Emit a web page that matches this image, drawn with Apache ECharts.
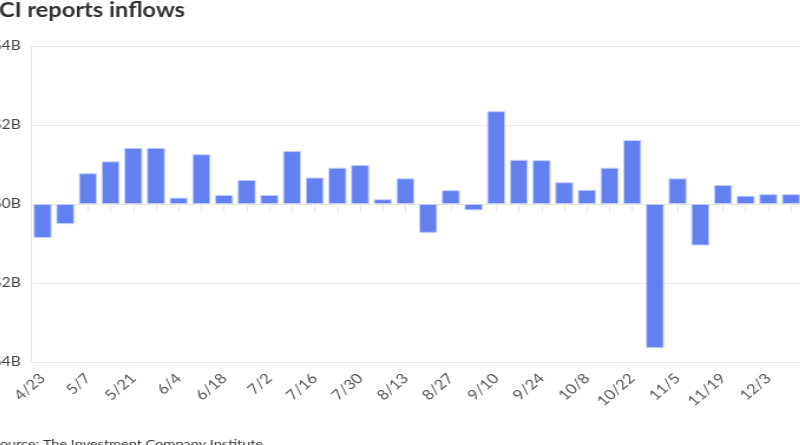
<!DOCTYPE html>
<html>
<head>
<meta charset="utf-8">
<script src="https://cdn.jsdelivr.net/npm/echarts@6/dist/echarts.min.js"></script>
<style>
  html, body { margin: 0; padding: 0; overflow: hidden; background: #fff; width: 800px; height: 445px; }
  /* the reference is a cropped, slightly widened capture of the chart */
  #container1 { position: absolute; left: -60px; top: 0; width: 735px; height: 445px;
                transform: scaleX(1.18); transform-origin: 0 0; }
</style>
</head>
<body>
<div id="container1"></div>
<script>
// weekly ICI flows, $B
var weeks = ["4/23","4/30","5/7","5/14","5/21","5/28","6/4","6/11","6/18","6/25",
             "7/2","7/9","7/16","7/23","7/30","8/6","8/13","8/20","8/27","9/3",
             "9/10","9/17","9/24","10/1","10/8","10/15","10/22","10/29","11/5","11/12",
             "11/19","11/26","12/3","12/10"];
var inflows = [-0.86, -0.51, 0.78, 1.08, 1.42, 1.42, 0.16, 1.26, 0.23, 0.61,
               0.23, 1.34, 0.67, 0.92, 0.99, 0.12, 0.65, -0.73, 0.35, -0.16,
               2.35, 1.12, 1.11, 0.55, 0.36, 0.92, 1.62, -3.65, 0.65, -1.05,
               0.48, 0.21, 0.25, 0.25];
var yTicks = [-4, -2, 0, 2, 4];

var dom = document.getElementById("container1");
var myChart = echarts.init(dom);

var option = {
    animation: false,
    textStyle: { fontFamily: 'Lato' },
    title: [
        {
            text: 'ICI reports inflows',
            left: 39,
            top: -4,
            textStyle: { fontFamily: 'Lato', fontWeight: 'bold', fontSize: 20, color: '#333' }
        },
        {
            text: 'Source: The Investment Company Institute',
            left: 39,
            top: 433,
            textStyle: { fontFamily: 'Lato', fontWeight: 'normal', fontSize: 12.3, color: '#333' }
        }
    ],
    grid: { left: 77.3, right: 4.2, top: 46, bottom: 83 },
    xAxis: {
        type: 'category',
        data: weeks,
        axisLine: { lineStyle: { color: '#e6e6e6' } },
        axisTick: { show: true, alignWithLabel: true, interval: 0, length: 8, lineStyle: { color: '#e6e6e6' } },
        axisLabel: { interval: 1, rotate: 45, margin: 14, padding: [8, 0, 0, 0], fontSize: 14, color: '#555', fontFamily: 'Lato' }
    },
    yAxis: {
        type: 'value',
        min: yTicks[0],
        max: yTicks[yTicks.length - 1],
        interval: 2,
        axisLine: { show: true, lineStyle: { color: '#e6e6e6' } },
        axisTick: { show: false },
        splitLine: { lineStyle: { color: '#ececec' } },
        axisLabel: {
            margin: 9, fontSize: 13, color: '#444', fontFamily: 'Lato',
            formatter: function (v) { return (v < 0 ? '-' : '') + '$' + Math.abs(v) + 'B'; }
        }
    },
    series: [
        {
            name: 'Inflows',
            type: 'bar',
            data: inflows,
            barCategoryGap: '20%',
            itemStyle: { color: '#6380f0', borderColor: '#c3cdfa', borderWidth: 1 }
        }
    ]
};

if (option && typeof option === "object") {
    myChart.setOption(option, true);
}
</script>
</body>
</html>
